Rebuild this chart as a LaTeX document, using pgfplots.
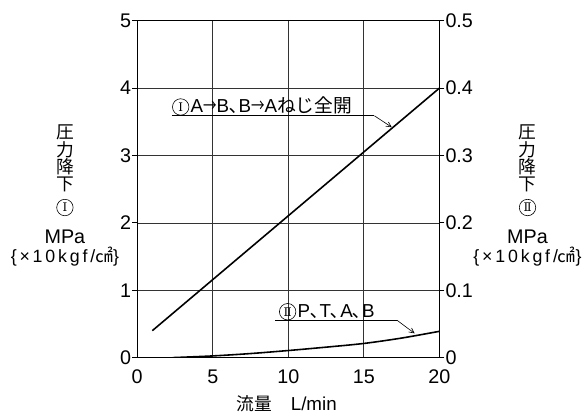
\documentclass[border=0pt]{standalone}
\usepackage{fontspec}
\setmainfont{Liberation Sans}
\newfontfamily\jp{Noto Sans CJK JP}
\newfontfamily\rom{DejaVu Serif}
\newfontfamily\lsp[LetterSpace=16]{Liberation Sans}
\usepackage{pgfplots}
\pgfplotsset{compat=1.18}
\usetikzlibrary{arrows.meta}

\newsavebox\cIbox
\newsavebox\cIIbox
\newcommand\arr{\scalebox{0.72}[1]{\jp →}}
\newcommand\ten{{\jp ､}}

\begin{document}
\sbox\cIbox{\tikz[baseline=0pt]{%
  \draw[line width=0.6bp] (8.5bp,5.5bp) circle[radius=8.3bp];
  \node[inner sep=0pt] at (8.5bp,5.5bp) {\rom\fontsize{12}{12}\selectfont Ⅰ};}}
\sbox\cIIbox{\tikz[baseline=0pt]{%
  \draw[line width=0.6bp] (8.5bp,5.5bp) circle[radius=8.3bp];
  \node[inner sep=0pt] at (8.5bp,5.5bp) {\rom\fontsize{12}{12}\selectfont Ⅱ};}}
\begin{tikzpicture}[font=\fontsize{19}{21}\selectfont]
\path[use as bounding box] (-133bp,-57bp) rectangle (450bp,361bp);

% left scale: pressure drop I
\begin{axis}[
  at={(0,0)}, anchor=south west, scale only axis,
  width=305bp, height=340bp,
  xmin=0, xmax=20, ymin=0, ymax=5,
  xtick={0,5,10,15,20}, ytick={0,1,...,5},
  grid=major, grid style={black!80, line width=0.7bp},
  axis line style={line width=0.9bp},
  ytick align=outside, xtick align=inside,
  ytick pos=left, xtick pos=bottom,
  major tick length=5bp,
  xtick style={draw=none},
  ytick style={black, line width=0.9bp},
  /pgf/number format/assume math mode=true,
  ticklabel style={font=\fontsize{20}{22}\selectfont},
  yticklabel style={inner sep=1bp},
  xticklabel style={inner sep=0pt, yshift=-12bp},
]
\addplot[black, line width=1.6bp] coordinates {(1,0.4) (20,4)};

\draw[line width=0.7bp] (axis cs:2.3,3.59) -- (axis cs:15.7,3.59);
\draw[line width=0.6bp, -{Straight Barb[length=5bp,width=5bp]}] (axis cs:15.7,3.59) -- (axis cs:16.85,3.42);
\node[anchor=base west, inner sep=0pt] at (axis cs:2.3,3.64)
  {\usebox\cIbox\hspace{1.5bp}A\arr B\ten B\arr A{\jp ねじ全開}};

\draw[line width=0.7bp] (axis cs:9.15,0.554) -- (axis cs:17.2,0.554);
\draw[line width=0.6bp, -{Straight Barb[length=5bp,width=5bp]}] (axis cs:17.2,0.554) -- (axis cs:18.36,0.36);
\node[anchor=base west, inner sep=0pt] at (axis cs:9.38,0.60)
  {\usebox\cIIbox\hspace{1.5bp}P\ten T\ten A\ten B};
\end{axis}

% right scale: pressure drop II
\begin{axis}[
  at={(0,0)}, anchor=south west, scale only axis,
  width=305bp, height=340bp,
  xmin=0, xmax=20, ymin=0, ymax=0.5,
  axis x line=none, axis y line*=right,
  axis line style={line width=0.9bp},
  ytick={0,0.1,0.2,0.3,0.4,0.5},
  yticklabels={0,0.1,0.2,0.3,0.4,0.5},
  ytick align=outside, major tick length=5bp,
  ytick style={black, line width=0.9bp},
  /pgf/number format/assume math mode=true,
  ticklabel style={font=\fontsize{20}{22}\selectfont},
  yticklabel style={inner sep=1bp},
]
\addplot[black, line width=1.6bp, smooth] coordinates {
  (2.35,0) (5,0.0025) (7.5,0.006) (10,0.0105) (12.5,0.0155)
  (15,0.021) (17.5,0.029) (20,0.039)};
\end{axis}

% axis titles
\foreach \cx/\circ in {-73/\cIbox, 394/\cIIbox}{
  \begin{scope}[every node/.style={anchor=base, inner sep=0pt}]
    \node at (\cx bp,221bp) {\jp\fontsize{18}{18}\selectfont 圧};
    \node at (\cx bp,203.5bp) {\jp\fontsize{18}{18}\selectfont 力};
    \node at (\cx bp,186bp) {\jp\fontsize{18}{18}\selectfont 降};
    \node at (\cx bp,168.5bp) {\jp\fontsize{18}{18}\selectfont 下};
    \node at (\cx bp,146bp) {\usebox\circ};
    \node at (\cx bp,115bp) {\fontsize{20}{20}\selectfont MPa};
    \node at (\cx bp,96bp) {\fontsize{18}{18}\selectfont{\lsp\{×10kgf/}{\jp ㎠}\}};
  \end{scope}
}
\node[anchor=base west, inner sep=0pt] at (100bp,-53bp)
  {{\jp\fontsize{18}{18}\selectfont 流量}\hspace{19bp}\fontsize{19}{19}\selectfont L/min};
\end{tikzpicture}
\end{document}
